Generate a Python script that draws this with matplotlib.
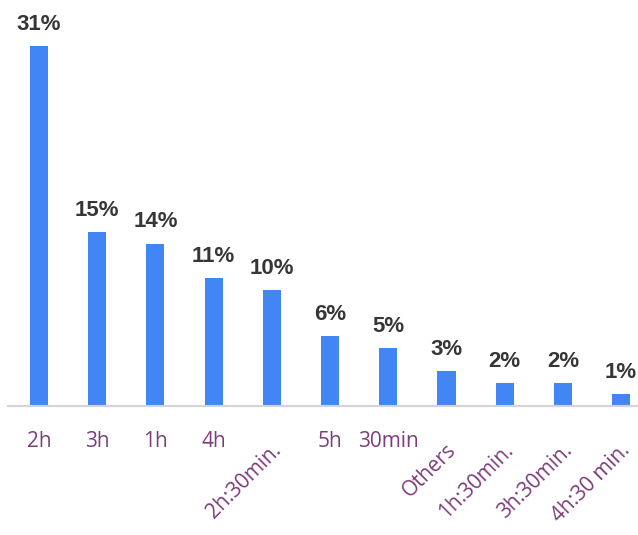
import numpy as np
import matplotlib.pyplot as plt

categories = ['2h', '3h', '1h', '4h', '2h:30min.', '5h', '30min', 'Others',
              '1h:30min.', '3h:30min.', '4h:30 min.']
shares = [31, 15, 14, 11, 10, 6, 5, 3, 2, 2, 1]
rotated = [False, False, False, False, True, False, False, True, True, True, True]

fig = plt.figure(figsize=(6.38, 5.35), dpi=100)
ax = fig.add_axes([0.0125, 0.2411, 0.9875, 0.7589])

x = np.arange(len(categories))
bars = ax.bar(x, shares, width=0.31, color='#4285f4', zorder=2)

for xi, v in zip(x, shares):
    ax.annotate(f'{v}%', (xi, v), xytext=(0, 8), textcoords='offset points',
                ha='center', va='bottom', fontsize=16, fontweight='bold',
                color='#363636', family='Liberation Sans')

ax.set_xlim(-0.533, 10.29)
ax.set_ylim(0, 35)
ax.set_xticks([])
ax.set_yticks([])

for xi, lab, rot in zip(x, categories, rotated):
    if rot:
        ax.annotate(lab, (xi, 0), xytext=(-1, -24), textcoords='offset points',
                    ha='right', va='top', rotation=45, rotation_mode='anchor',
                    fontsize=15, color='#7b3d7b', family='Open Sans')
    else:
        ax.annotate(lab, (xi, 0), xytext=(0, -18), textcoords='offset points',
                    ha='center', va='top', fontsize=15, color='#7b3d7b',
                    family='Open Sans')

for s in ['top', 'right', 'left']:
    ax.spines[s].set_visible(False)
ax.spines['bottom'].set_color('#d4d4d4')
ax.spines['bottom'].set_linewidth(1.5)

fig.savefig('out.png', dpi=100)
